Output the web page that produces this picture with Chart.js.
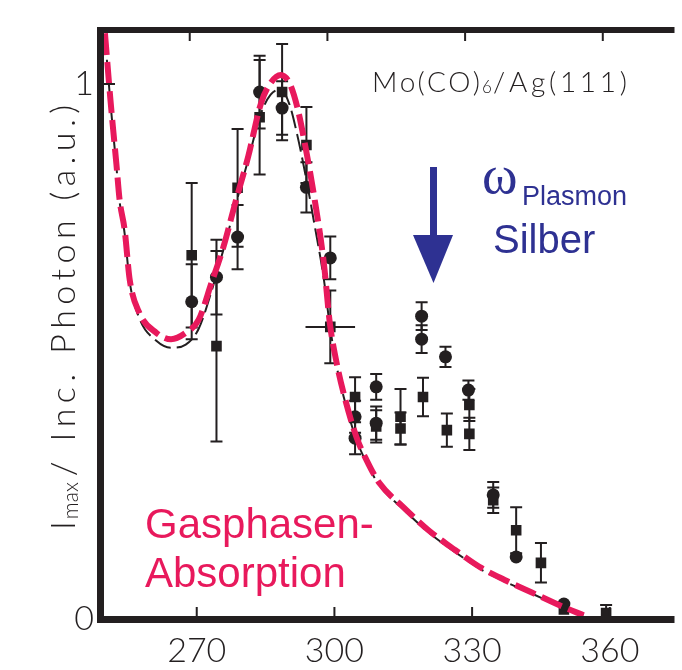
<!DOCTYPE html>
<html>
<head>
<meta charset="utf-8">
<script src="https://cdn.jsdelivr.net/npm/chart.js@4/dist/chart.umd.min.js"></script>
<style>
  html, body { margin: 0; padding: 0; background: #fff; overflow: hidden; }
  #wrap { width: 682px; height: 670px; }
</style>
</head>
<body>
<div id="wrap"><canvas id="chart" width="682" height="670"></canvas></div>
<script>
// Fit curves (gas phase absorption)
const fitX = [250.0, 251.2, 252.5, 253.2, 254.3, 255.4, 257.5, 261.2, 264.4, 267.6, 270.4, 273.2, 275.8, 278.4, 281.2, 284.0, 286.1, 288.3, 290.2, 291.9, 293.7, 295.6, 297.7, 299.0, 300.5, 302.0, 304.8, 307.0, 309.8, 314.9, 320.5, 326.3, 332.1, 337.1, 342.9, 350.0, 354.3];
const fitRed = [1.095, 0.97, 0.85, 0.783, 0.727, 0.634, 0.572, 0.535, 0.523, 0.535, 0.559, 0.628, 0.695, 0.778, 0.864, 0.964, 1.002, 1.017, 1.002, 0.957, 0.882, 0.789, 0.665, 0.553, 0.478, 0.422, 0.340, 0.297, 0.254, 0.210, 0.166, 0.129, 0.095, 0.073, 0.050, 0.022, 0.007];
const fitBlack = [1.09, 0.965, 0.845, 0.78, 0.72, 0.63, 0.562, 0.52, 0.507, 0.513, 0.542, 0.612, 0.69, 0.772, 0.858, 0.945, 0.98, 0.99, 0.962, 0.905, 0.83, 0.74, 0.635, 0.548, 0.472, 0.416, 0.335, 0.292, 0.25, 0.206, 0.162, 0.125, 0.092, 0.07, 0.048, 0.021, 0.008];

// Measured points: circles
const circleX = [268.9, 274.3, 278.9, 283.7, 288.6, 293.9, 299.1, 304.5, 304.5, 309.1, 309.1, 319.0, 319.0, 324.2, 329.2, 334.6, 339.6, 350.0];
const circleY = [0.593, 0.639, 0.714, 0.985, 0.955, 0.807, 0.675, 0.378, 0.338, 0.434, 0.366, 0.566, 0.523, 0.490, 0.428, 0.232, 0.116, 0.028];
const circleErr = [0.07, 0.07, 0.06, 0.068, 0.05, 0.047, 0.04, 0.03, 0.03, 0.024, 0.031, 0.026, 0.026, 0.019, 0.018, 0.024, 0, 0];

// Measured points: squares
const squareX = [268.9, 274.3, 278.9, 283.7, 288.6, 293.9, 299.1, 304.5, 309.1, 314.4, 314.4, 319.3, 324.5, 329.4, 329.4, 334.6, 339.6, 345.0, 350.0, 359.2];
const squareY = [0.680, 0.510, 0.806, 0.938, 0.985, 0.886, 0.546, 0.415, 0.360, 0.378, 0.356, 0.415, 0.353, 0.400, 0.346, 0.222, 0.166, 0.105, 0.018, 0.011];
const squareErr = [0.135, 0.178, 0.11, 0.107, 0.09, 0.071, 0.068, 0.037, 0.03, 0.052, 0.03, 0.036, 0.031, 0.03, 0.03, 0.024, 0.043, 0.037, 0, 0.015];
const squareXErr = [0, 0, 0, 0, 0, 0, 5.4, 0, 0, 0, 0, 0, 0, 0, 0, 0, 0, 0, 0, 0];

// Axis ticks
const xTicks = [270, 300, 330, 360];
const xTickLabels = ['270', '300', '330', '360'];
const yTicks = [0, 1];
const yTickLabels = ['0', '1'];

const INK = '#231f20';
const RED = '#e8195c';
const BLUE = '#2e3192';
const LABEL_FONT = 'Lato, "DejaVu Sans", sans-serif';

const toPoints = (xs, ys) => xs.map((x, i) => ({ x, y: ys[i] }));

// draw text char by char so that it fills a given width
function spacedText(ctx, text, x, y, width) {
    const chars = [...text];
    const natural = chars.reduce((s, c) => s + ctx.measureText(c).width, 0);
    const gap = chars.length > 1 ? (width - natural) / (chars.length - 1) : 0;
    let cx = x;
    chars.forEach(c => {
        ctx.fillText(c, cx, y);
        cx += ctx.measureText(c).width + gap;
    });
}

// Error bars, drawn under the markers
const errorBars = {
    id: 'errorBars',
    beforeDatasetsDraw(chart) {
        const { ctx, scales: { x, y } } = chart;
        ctx.save();
        ctx.strokeStyle = INK;
        ctx.lineWidth = 2;
        const draw = (xs, ys, errs, xerrs) => {
            xs.forEach((v, i) => {
                const px = x.getPixelForValue(v);
                if (errs[i] > 0) {
                    const top = y.getPixelForValue(ys[i] + errs[i]);
                    const bot = y.getPixelForValue(ys[i] - errs[i]);
                    ctx.beginPath();
                    ctx.moveTo(px, top); ctx.lineTo(px, bot);
                    ctx.moveTo(px - 6, top); ctx.lineTo(px + 6, top);
                    ctx.moveTo(px - 6, bot); ctx.lineTo(px + 6, bot);
                    ctx.stroke();
                }
                if (xerrs && xerrs[i] > 0) {
                    const py = y.getPixelForValue(ys[i]);
                    ctx.beginPath();
                    ctx.moveTo(x.getPixelForValue(v - xerrs[i]), py);
                    ctx.lineTo(x.getPixelForValue(v + xerrs[i]), py);
                    ctx.stroke();
                }
            });
        };
        draw(circleX, circleY, circleErr, null);
        draw(squareX, squareY, squareErr, squareXErr);
        ctx.restore();
    }
};

// Frame, inward ticks and annotations
const frameAndText = {
    id: 'frameAndText',
    afterDatasetsDraw(chart) {
        const { ctx, chartArea: a, scales: { x, y } } = chart;
        ctx.save();
        ctx.strokeStyle = INK;
        ctx.lineWidth = 2;
        ctx.beginPath();
        xTicks.forEach(v => {
            const px = x.getPixelForValue(v);
            ctx.moveTo(px, a.bottom - 3); ctx.lineTo(px, a.bottom - 12);
            ctx.moveTo(px - 7, a.top + 3); ctx.lineTo(px - 7, a.top + 11);
        });
        yTicks.forEach(v => {
            const py = y.getPixelForValue(v);
            ctx.moveTo(a.left + 3, py); ctx.lineTo(a.left + 14, py);
        });
        ctx.stroke();

        ctx.fillStyle = INK;
        ctx.fillRect(a.left - 4, a.top - 3, 7, a.bottom - a.top + 7);
        ctx.fillRect(a.left - 4, a.bottom - 3, a.right - a.left + 4, 7);
        ctx.fillRect(a.left - 4, a.top - 3, a.right - a.left + 4, 6);
        ctx.restore();
    },
    afterDraw(chart) {
        const { ctx } = chart;
        ctx.save();
        ctx.textBaseline = 'alphabetic';
        ctx.textAlign = 'left';

        // sample label
        ctx.fillStyle = INK;
        ctx.font = `300 28px ${LABEL_FONT}`;
        spacedText(ctx, 'Mo(CO)', 372, 92, 108);
        ctx.font = `300 17px ${LABEL_FONT}`;
        ctx.fillText('6', 482, 93);
        ctx.font = `300 28px ${LABEL_FONT}`;
        spacedText(ctx, '/Ag(111)', 493, 92, 134);

        // y axis title
        ctx.save();
        ctx.translate(75, 530);
        ctx.rotate(-Math.PI / 2);
        ctx.font = `300 34px ${LABEL_FONT}`;
        ctx.fillText('I', 0, 0);
        const wI = ctx.measureText('I').width;
        ctx.font = `300 21px ${LABEL_FONT}`;
        ctx.fillText('max', wI + 2, 3);
        const wMax = ctx.measureText('max').width;
        ctx.font = `300 34px ${LABEL_FONT}`;
        const start = wI + 2 + wMax + 6;
        spacedText(ctx, '/ Inc. Photon (a.u.)', start, 0, 425 - start);
        ctx.restore();

        // plasmon arrow
        ctx.fillStyle = BLUE;
        ctx.fillRect(430, 167, 7, 70);
        ctx.beginPath();
        ctx.moveTo(413, 235);
        ctx.lineTo(453, 235);
        ctx.lineTo(433.5, 283);
        ctx.closePath();
        ctx.fill();

        ctx.font = '54px "Liberation Serif", serif';
        ctx.fillText('\u03C9', 482, 193);
        ctx.font = '27px "Liberation Sans", Arial, sans-serif';
        ctx.fillText('Plasmon', 522, 205);
        ctx.font = '40px "Liberation Sans", Arial, sans-serif';
        ctx.fillText('Silber', 493, 253);

        // gas phase label
        ctx.fillStyle = RED;
        ctx.font = '42px "Liberation Sans", Arial, sans-serif';
        ctx.fillText('Gasphasen-', 145, 538);
        ctx.fillText('Absorption', 145, 587);
        ctx.restore();
    }
};

new Chart(document.getElementById('chart'), {
    type: 'scatter',
    data: {
        datasets: [
            {
                label: 'Gasphase',
                type: 'line',
                data: toPoints(fitX, fitRed),
                borderColor: RED,
                borderWidth: 6,
                borderDash: [22, 7],
                pointRadius: 0,
                fill: false,
                cubicInterpolationMode: 'monotone',
                order: 0
            },
            {
                label: 'Kreise',
                data: toPoints(circleX, circleY),
                pointStyle: 'circle',
                pointRadius: 6.5,
                backgroundColor: INK,
                borderColor: INK,
                borderWidth: 0,
                order: 1
            },
            {
                label: 'Quadrate',
                data: toPoints(squareX, squareY),
                pointStyle: 'rect',
                pointRadius: 7.5,
                backgroundColor: INK,
                borderColor: INK,
                borderWidth: 0,
                order: 1
            },
            {
                label: 'Fit',
                type: 'line',
                data: toPoints(fitX, fitBlack),
                borderColor: INK,
                borderWidth: 2,
                borderDash: [18, 6],
                pointRadius: 0,
                fill: false,
                cubicInterpolationMode: 'monotone',
                order: 2
            }
        ]
    },
    options: {
        responsive: false,
        devicePixelRatio: 1,
        animation: false,
        layout: { padding: { top: 30, right: 0, bottom: 0, left: 0 } },
        plugins: { legend: { display: false }, tooltip: { enabled: false } },
        scales: {
            x: {
                type: 'linear',
                min: 249.14,
                max: 374.1,
                grid: { display: false, drawTicks: false },
                border: { display: false },
                afterBuildTicks: s => { s.ticks = xTicks.map(v => ({ value: v })); },
                afterFit: s => { s.height = 51; },
                ticks: {
                    padding: 12,
                    color: INK,
                    font: { family: LABEL_FONT, size: 34, weight: '300' },
                    callback: v => xTickLabels[xTicks.indexOf(v)]
                }
            },
            y: {
                min: 0,
                max: 1.101,
                grid: { display: false, drawTicks: false },
                border: { display: false },
                afterBuildTicks: s => { s.ticks = yTicks.map(v => ({ value: v })); },
                afterFit: s => { s.width = 101; },
                ticks: {
                    padding: 7,
                    color: INK,
                    font: { family: LABEL_FONT, size: 34, weight: '300' },
                    callback: v => yTickLabels[yTicks.indexOf(v)]
                }
            }
        }
    },
    plugins: [errorBars, frameAndText]
});
</script>
</body>
</html>
